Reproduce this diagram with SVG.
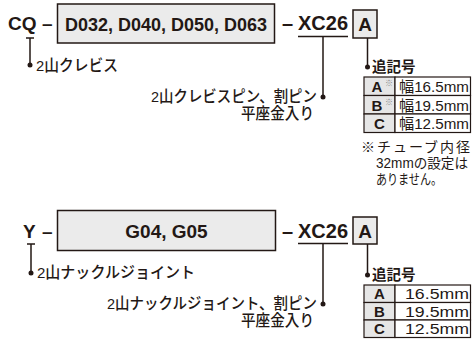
<svg xmlns="http://www.w3.org/2000/svg" width="472" height="339" viewBox="0 0 472 339">
<style>
.b{font-family:"Liberation Sans",Arial,sans-serif;font-weight:bold;fill:#231815}
.j{font-family:"Liberation Sans","Noto Sans CJK JP",sans-serif;fill:#231815;font-size:15.5px;font-weight:500}
.jb{font-family:"Noto Sans CJK JP",sans-serif;font-weight:bold;fill:#231815;font-size:14.5px}
.box{fill:#ebebeb;stroke:#231815;stroke-width:1.5}
.cell{fill:#e6e6e6;stroke:#231815;stroke-width:1.2}
.cellw{fill:#fff;stroke:#231815;stroke-width:1.2}
.ln{stroke:#231815;stroke-width:1.5;fill:none}
.dot{fill:#231815}
.k{fill:#888;font-family:"Noto Sans CJK JP",sans-serif;font-size:8px}
.v{font-family:"Liberation Sans","Noto Sans CJK JP",sans-serif;fill:#231815;font-size:15px}
.fn{font-family:"Liberation Sans","Noto Sans CJK JP",sans-serif;fill:#231815;font-size:14px}
</style>

<!-- Upper section -->
<g id="prefix-cq"><text class="b" x="8" y="30" font-size="19">CQ</text><text class="b" x="42" y="30" font-size="19">–</text></g>
<g id="bore-box-cq"><rect class="box" x="57.5" y="4" width="217" height="39"/><text class="b" x="166" y="31" font-size="18" text-anchor="middle">D032, D040, D050, D063</text></g>
<g id="xc26-cq"><text class="b" x="282" y="30" font-size="20">–</text><text class="b" x="298" y="30" font-size="20">XC26</text></g>
<g id="suffix-a-cq"><rect class="box" x="353" y="10" width="24" height="28"/><text class="b" x="365" y="31" font-size="19" text-anchor="middle">A</text></g>
<g id="label-clevis"><text class="j" x="36" y="71" textLength="82" lengthAdjust="spacingAndGlyphs">2山クレビス</text></g>
<g id="label-clevis-pin"><text class="j" x="151" y="102" textLength="166" lengthAdjust="spacingAndGlyphs">2山クレビスピン、割ピン</text><text class="j" x="241" y="119" textLength="73" lengthAdjust="spacingAndGlyphs">平座金入り</text></g>
<g id="label-suffix-cq"><text class="jb" x="372" y="72">追記号</text></g>
<g id="table-cq">
<rect class="cell" x="364" y="77" width="31" height="18.5"/><rect class="cellw" x="395" y="77" width="75.5" height="18.5"/>
<rect class="cell" x="364" y="95.5" width="31" height="18.5"/><rect class="cellw" x="395" y="95.5" width="75.5" height="18.5"/>
<rect class="cell" x="364" y="114" width="31" height="18.5"/><rect class="cellw" x="395" y="114" width="75.5" height="18.5"/>
<text class="b" x="377" y="92" font-size="15" text-anchor="middle">A</text><text class="k" x="385" y="86">※</text>
<text class="b" x="377" y="110.5" font-size="15" text-anchor="middle">B</text><text class="k" x="385" y="104.5">※</text>
<text class="b" x="379.5" y="129" font-size="15" text-anchor="middle">C</text>
<text class="v" x="399" y="92" textLength="70" lengthAdjust="spacingAndGlyphs">幅16.5mm</text>
<text class="v" x="399" y="110.5" textLength="70" lengthAdjust="spacingAndGlyphs">幅19.5mm</text>
<text class="v" x="399" y="129" textLength="70" lengthAdjust="spacingAndGlyphs">幅12.5mm</text>
</g>
<g id="footnote">
<text class="fn" x="361" y="152" textLength="109" lengthAdjust="spacing">※チューブ内径</text>
<text class="fn" x="376" y="168" textLength="92" lengthAdjust="spacingAndGlyphs">32mmの設定は</text>
<text class="fn" x="376" y="184" textLength="66" lengthAdjust="spacingAndGlyphs">ありません。</text>
</g>

<!-- Lower section -->
<g id="prefix-y"><text class="b" x="23" y="238" font-size="19">Y</text><text class="b" x="42" y="238" font-size="19">–</text></g>
<g id="bore-box-y"><rect class="box" x="57.5" y="210.5" width="218" height="40"/><text class="b" x="166.5" y="238" font-size="19" text-anchor="middle">G04, G05</text></g>
<g id="xc26-y"><text class="b" x="282" y="238" font-size="20">–</text><text class="b" x="298" y="238" font-size="20">XC26</text></g>
<g id="suffix-a-y"><rect class="box" x="353" y="217" width="24" height="27"/><text class="b" x="365" y="238" font-size="19" text-anchor="middle">A</text></g>
<g id="label-knuckle"><text class="j" x="37" y="278" textLength="158" lengthAdjust="spacingAndGlyphs">2山ナックルジョイント</text></g>
<g id="label-knuckle-pin"><text class="j" x="107" y="309" textLength="210" lengthAdjust="spacingAndGlyphs">2山ナックルジョイント、割ピン</text><text class="j" x="241" y="326" textLength="73" lengthAdjust="spacingAndGlyphs">平座金入り</text></g>
<g id="label-suffix-y"><text class="jb" x="372" y="280">追記号</text></g>
<g id="table-y">
<rect class="cell" x="364" y="285" width="31" height="17.5"/><rect class="cellw" x="395" y="285" width="75.5" height="17.5"/>
<rect class="cell" x="364" y="302.5" width="31" height="17.5"/><rect class="cellw" x="395" y="302.5" width="75.5" height="17.5"/>
<rect class="cell" x="364" y="320" width="31" height="17.5"/><rect class="cellw" x="395" y="320" width="75.5" height="17.5"/>
<text class="b" x="379.5" y="299" font-size="15" text-anchor="middle">A</text>
<text class="b" x="379.5" y="316.5" font-size="15" text-anchor="middle">B</text>
<text class="b" x="379.5" y="334" font-size="15" text-anchor="middle">C</text>
<text class="v" x="405" y="299" textLength="64" lengthAdjust="spacingAndGlyphs">16.5mm</text>
<text class="v" x="405" y="316.5" textLength="64" lengthAdjust="spacingAndGlyphs">19.5mm</text>
<text class="v" x="405" y="334" textLength="64" lengthAdjust="spacingAndGlyphs">12.5mm</text>
</g>

<g id="connectors">
<path class="ln" d="M26 38H34M30 38V65"/><circle class="dot" cx="30" cy="65" r="2.5"/>
<path class="ln" d="M298 36.5H348M323 36.5V97"/><circle class="dot" cx="323" cy="97" r="2.5"/>
<path class="ln" d="M367.5 38V67"/><circle class="dot" cx="367.5" cy="67" r="2.5"/>
<path class="ln" d="M27 244H35M31 244V273"/><circle class="dot" cx="31" cy="273" r="2.5"/>
<path class="ln" d="M298 243.5H348M323 243.5V304"/><circle class="dot" cx="323" cy="304" r="2.5"/>
<path class="ln" d="M367.5 244V275"/><circle class="dot" cx="367.5" cy="275" r="2.5"/>
</g>
</svg>
